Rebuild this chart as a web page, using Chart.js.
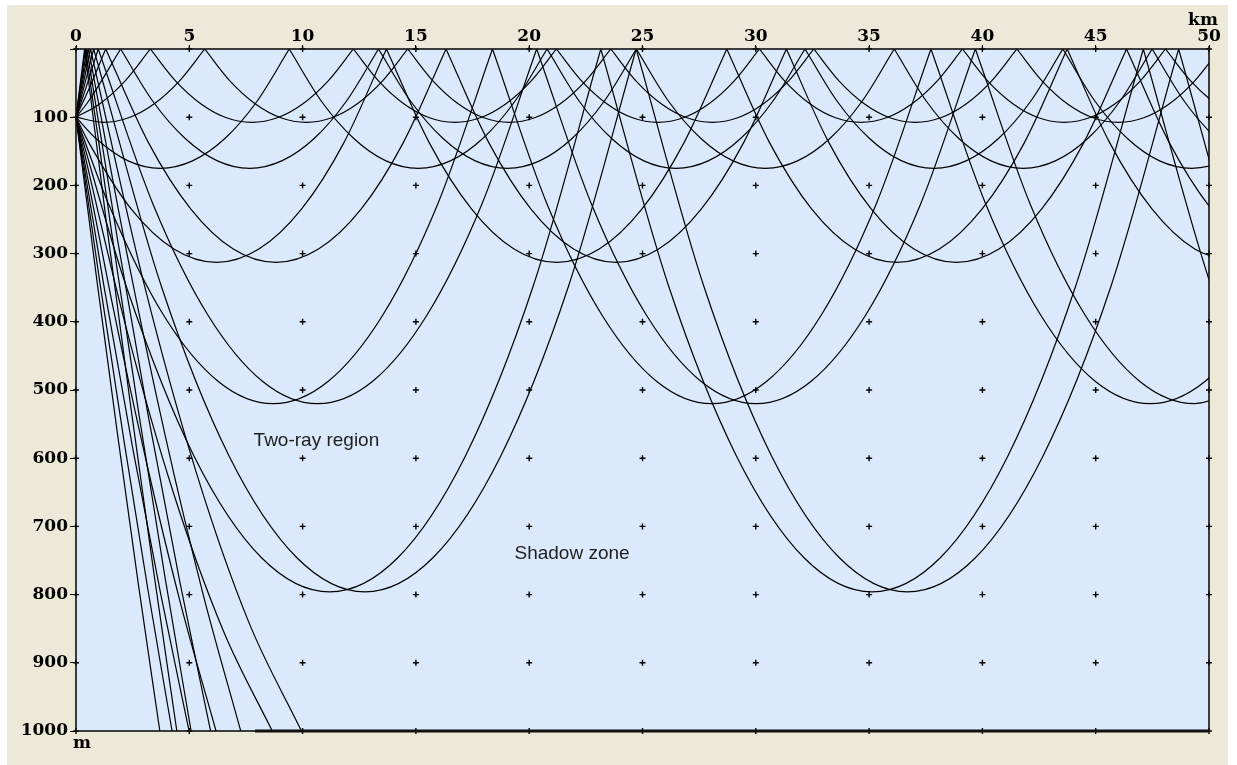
<!DOCTYPE html>
<html>
<head>
<meta charset="utf-8">
<script src="https://cdn.jsdelivr.net/npm/chart.js@4.4.1/dist/chart.umd.min.js"></script>
<style>
html,body{margin:0;padding:0;background:#fff;}
canvas{display:block;}
</style>
</head>
<body>
<canvas id="c" width="1237" height="765"></canvas>
<script>
// ---------- axis ticks ----------
const xTicks = [0, 5, 10, 15, 20, 25, 30, 35, 40, 45, 50];        // km
const yTicks = [0, 100, 200, 300, 400, 500, 600, 700, 800, 900, 1000]; // m

// ---------- rays: [range km, depth m], one sub-array per arc between surface reflections ----------
// turning depth ~107 m
const ray0Down = [
 [[0,100],[1.20,107.5],[2.32,100.8],[3.44,80.6],[4.56,47],[5.68,0]],
 [[5.68,0],[6.80,47],[7.92,80.6],[9.04,100.8],[10.16,107.5],[11.28,100.8],[12.40,80.6],[13.52,47],[14.64,0]],
 [[14.64,0],[15.76,47],[16.88,80.6],[18.00,100.8],[19.12,107.5],[20.24,100.8],[21.36,80.6],[22.48,47],[23.60,0]],
 [[23.60,0],[24.72,47],[25.84,80.6],[26.96,100.8],[28.08,107.5],[29.20,100.8],[30.32,80.6],[31.44,47],[32.56,0]],
 [[32.56,0],[33.68,47],[34.80,80.6],[35.92,100.8],[37.04,107.5],[38.16,100.8],[39.28,80.6],[40.40,47],[41.52,0]],
 [[41.52,0],[42.64,47],[43.76,80.6],[44.88,100.8],[46.00,107.5],[47.12,100.8],[48.24,80.6],[49.36,47],[50.48,0]]
];
const ray0Up = [
 [[0,100],[1.04,80.6],[2.16,47],[3.28,0]],
 [[3.28,0],[4.40,47],[5.52,80.6],[6.64,100.8],[7.76,107.5],[8.88,100.8],[10.00,80.6],[11.12,47],[12.24,0]],
 [[12.24,0],[13.36,47],[14.48,80.6],[15.60,100.8],[16.72,107.5],[17.84,100.8],[18.96,80.6],[20.08,47],[21.20,0]],
 [[21.20,0],[22.32,47],[23.44,80.6],[24.56,100.8],[25.68,107.5],[26.80,100.8],[27.92,80.6],[29.04,47],[30.16,0]],
 [[30.16,0],[31.28,47],[32.40,80.6],[33.52,100.8],[34.64,107.5],[35.76,100.8],[36.88,80.6],[38.00,47],[39.12,0]],
 [[39.12,0],[40.24,47],[41.36,80.6],[42.48,100.8],[43.60,107.5],[44.72,100.8],[45.84,80.6],[46.96,47],[48.08,0]],
 [[48.08,0],[49.20,47],[50.32,80.6],[51.44,100.8]]
];
// turning depth ~175 m
const ray1Down = [
 [[0,100],[0.88,131.3],[2.30,164.1],[3.72,175],[5.14,164.1],[6.57,131.3],[7.99,76.6],[9.41,0]],
 [[9.41,0],[10.83,76.6],[12.26,131.3],[13.68,164.1],[15.10,175],[16.52,164.1],[17.95,131.3],[19.37,76.6],[20.79,0]],
 [[20.79,0],[22.21,76.6],[23.64,131.3],[25.06,164.1],[26.48,175],[27.90,164.1],[29.33,131.3],[30.75,76.6],[32.17,0]],
 [[32.17,0],[33.59,76.6],[35.02,131.3],[36.44,164.1],[37.86,175],[39.28,164.1],[40.71,131.3],[42.13,76.6],[43.55,0]],
 [[43.55,0],[44.97,76.6],[46.40,131.3],[47.82,164.1],[49.24,175],[50.66,164.1],[52.09,131.3]]
];
const ray1Up = [
 [[0,100],[0.55,76.6],[1.97,0]],
 [[1.97,0],[3.39,76.6],[4.82,131.3],[6.24,164.1],[7.66,175],[9.08,164.1],[10.51,131.3],[11.93,76.6],[13.35,0]],
 [[13.35,0],[14.77,76.6],[16.20,131.3],[17.62,164.1],[19.04,175],[20.46,164.1],[21.89,131.3],[23.31,76.6],[24.73,0]],
 [[24.73,0],[26.15,76.6],[27.58,131.3],[29.00,164.1],[30.42,175],[31.84,164.1],[33.27,131.3],[34.69,76.6],[36.11,0]],
 [[36.11,0],[37.53,76.6],[38.96,131.3],[40.38,164.1],[41.80,175],[43.22,164.1],[44.65,131.3],[46.07,76.6],[47.49,0]],
 [[47.49,0],[48.91,76.6],[50.34,131.3],[51.76,164.1]]
];
// turning depth ~313 m
const ray2Down = [
 [[0,100],[0.56,136.9],[2.44,234.8],[4.32,293.4],[6.20,313],[8.07,293.4],[9.95,234.8],[11.83,136.9],[13.70,0]],
 [[13.70,0],[15.58,136.9],[17.46,234.8],[19.33,293.4],[21.21,313],[23.09,293.4],[24.97,234.8],[26.84,136.9],[28.72,0]],
 [[28.72,0],[30.60,136.9],[32.47,234.8],[34.35,293.4],[36.23,313],[38.10,293.4],[39.98,234.8],[41.86,136.9],[43.74,0]],
 [[43.74,0],[45.61,136.9],[47.49,234.8],[49.37,293.4],[51.24,313]]
];
const ray2Up = [
 [[0,100],[0.56,59.5],[1.31,0]],
 [[1.31,0],[3.19,136.9],[5.07,234.8],[6.94,293.4],[8.82,313],[10.70,293.4],[12.58,234.8],[14.45,136.9],[16.33,0]],
 [[16.33,0],[18.21,136.9],[20.08,234.8],[21.96,293.4],[23.84,313],[25.71,293.4],[27.59,234.8],[29.47,136.9],[31.35,0]],
 [[31.35,0],[33.22,136.9],[35.10,234.8],[36.98,293.4],[38.85,313],[40.73,293.4],[42.61,234.8],[44.48,136.9],[46.36,0]],
 [[46.36,0],[48.24,136.9],[50.11,234.8],[51.99,293.4]]
];
// turning depth ~520 m
const ray3Down = [
 [[0,100],[1.44,227.5],[3.86,390],[6.28,487.5],[8.70,520],[11.12,487.5],[13.54,390],[15.96,227.5],[18.38,0]],
 [[18.38,0],[20.79,227.5],[23.21,390],[25.63,487.5],[28.05,520],[30.47,487.5],[32.89,390],[35.31,227.5],[37.73,0]],
 [[37.73,0],[40.15,227.5],[42.57,390],[44.99,487.5],[47.41,520],[49.82,487.5],[52.24,390]]
];
const ray3Up = [
 [[0,100],[0.50,50.7],[0.98,0]],
 [[0.98,0],[3.40,227.5],[5.82,390],[8.24,487.5],[10.66,520],[13.08,487.5],[15.49,390],[17.91,227.5],[20.33,0]],
 [[20.33,0],[22.75,227.5],[25.17,390],[27.59,487.5],[30.01,520],[32.43,487.5],[34.85,390],[37.27,227.5],[39.69,0]],
 [[39.69,0],[42.11,227.5],[44.53,390],[46.95,487.5],[49.36,520],[51.78,487.5]]
];
// turning depth ~796 m
const ray4Down = [
 [[0,100],[2.22,348.3],[5.21,597],[8.20,746.3],[11.19,796],[14.19,746.3],[17.18,597],[20.17,348.3],[23.16,0]],
 [[23.16,0],[26.16,348.3],[29.15,597],[32.14,746.3],[35.13,796],[38.13,746.3],[41.12,597],[44.11,348.3],[47.10,0]],
 [[47.10,0],[50.10,348.3],[53.09,597]]
];
const ray4Up = [
 [[0,100],[0.42,47],[0.78,0]],
 [[0.78,0],[3.77,348.3],[6.76,597],[9.76,746.3],[12.75,796],[15.74,746.3],[18.74,597],[21.73,348.3],[24.72,0]],
 [[24.72,0],[27.71,348.3],[30.70,597],[33.70,746.3],[36.69,796],[39.68,746.3],[42.67,597],[45.67,348.3],[48.66,0]],
 [[48.66,0],[51.65,348.3],[54.64,597]]
];
// steep rays ending on the bottom
const ray5Down = [[[0,100],[2.17,403],[4.33,654],[6.50,853],[8.66,1000]]];
const ray5Up   = [[[0,100],[0.32,51],[0.64,0]], [[0.64,0],[2.97,340],[5.30,620],[7.62,840],[9.95,1000]]];
const ray6Down = [[[0,100],[1.55,365],[3.09,603],[4.63,815],[6.18,1000]]];
const ray6Up   = [[[0,100],[0.27,51],[0.55,0]], [[0.55,0],[2.23,297],[3.91,563],[5.59,797],[7.27,1000]]];
const ray7Down = [[[0,100],[1.25,351],[2.50,585],[3.75,801],[4.99,1000]]];
const ray7Up   = [[[0,100],[0.24,50],[0.48,0]], [[0.48,0],[1.84,281],[3.21,542],[4.58,781],[5.94,1000]]];
const ray8Down = [[[0,100],[1.06,344],[2.12,575],[3.18,794],[4.24,1000]]];
const ray8Up   = [[[0,100],[0.21,50],[0.42,0]], [[0.42,0],[1.59,273],[2.75,530],[3.92,773],[5.08,1000]]];
const ray9Down = [[[0,100],[0.92,339],[1.85,569],[2.77,789],[3.70,1000]]];
const ray9Up   = [[[0,100],[0.19,50],[0.38,0]], [[0.38,0],[1.39,267],[2.41,523],[3.43,767],[4.45,1000]]];

// heavy bottom line
const bottomLine = [[7.9,1000],[50,1000]];

// text labels placed in data coordinates
const notes = [
  {text: 'Two-ray region', x: 10.61, y: 582},
  {text: 'Shadow zone',    x: 21.89, y: 748}
];

const allRays = [ray0Down, ray0Up, ray1Down, ray1Up, ray2Down, ray2Up, ray3Down, ray3Up,
  ray4Down, ray4Up, ray5Down, ray5Up, ray6Down, ray6Up, ray7Down, ray7Up, ray8Down, ray8Up, ray9Down, ray9Up];

function toPoints(arcs) {
  const pts = [];
  arcs.forEach((arc, i) => {
    if (i > 0) pts.push({x: arc[0][0], y: null});
    arc.forEach(p => pts.push({x: p[0], y: p[1]}));
  });
  return pts;
}

const gridPts = [];
xTicks.forEach(x => yTicks.forEach(y => gridPts.push({x, y})));

const datasets = [];
datasets.push({
  data: gridPts, showLine: false, pointStyle: 'cross', pointRadius: 3,
  pointBorderColor: '#000', pointBorderWidth: 1.4, clip: false, order: 2
});
allRays.forEach(r => datasets.push({
  data: toPoints(r), borderColor: '#000', borderWidth: 1.2, pointRadius: 0,
  cubicInterpolationMode: 'monotone', spanGaps: false, fill: false, order: 1
}));
datasets.push({
  data: bottomLine.map(p => ({x: p[0], y: p[1]})), borderColor: '#111', borderWidth: 3,
  pointRadius: 0, clip: false, order: 0
});

const serif = {family: '"DejaVu Serif", serif', size: 17, weight: 'bold'};

const framePlugin = {
  id: 'frame',
  beforeDraw(chart) {
    const {ctx, chartArea: a} = chart;
    ctx.save();
    ctx.fillStyle = '#ffffff';
    ctx.fillRect(0, 0, chart.width, chart.height);
    ctx.fillStyle = '#ECE9D8';
    ctx.fillRect(7, 5, 1221, 760);
    ctx.fillStyle = '#DBE9FC';
    ctx.fillRect(a.left, a.top, a.right - a.left, a.bottom - a.top);
    ctx.restore();
  },
  afterDatasetsDraw(chart) {
    const {ctx, chartArea: a, scales} = chart;
    ctx.save();
    ctx.strokeStyle = '#111';
    ctx.lineWidth = 1.6;
    ctx.strokeRect(a.left, a.top, a.right - a.left, a.bottom - a.top);
    ctx.fillStyle = '#1e1e1e';
    ctx.font = '19px "Liberation Sans", Arial, sans-serif';
    ctx.textAlign = 'center';
    ctx.textBaseline = 'alphabetic';
    notes.forEach(n => ctx.fillText(n.text, scales.x.getPixelForValue(n.x), scales.y.getPixelForValue(n.y)));
    ctx.fillStyle = '#000';
    ctx.font = 'bold 17px "DejaVu Serif", serif';
    ctx.fillText('km', a.right - 6, 25);
    ctx.fillText('m', a.left + 6, 748);
    ctx.restore();
  }
};

new Chart(document.getElementById('c'), {
  type: 'line',
  data: {datasets},
  plugins: [framePlugin],
  options: {
    responsive: false,
    animation: false,
    events: [],
    layout: {padding: {left: 0, top: 0, right: 28, bottom: 34}},
    plugins: {legend: {display: false}, tooltip: {enabled: false}},
    scales: {
      x: {
        type: 'linear', position: 'top', min: 0, max: 50,
        afterBuildTicks: s => { s.ticks = xTicks.map(v => ({value: v})); },
        afterFit: s => { s.height = 49; },
        ticks: {font: serif, color: '#000', padding: -2, maxRotation: 0, autoSkip: false},
        grid: {drawOnChartArea: false, color: '#000', tickLength: 4, lineWidth: 1},
        border: {display: false}
      },
      y: {
        type: 'linear', position: 'left', reverse: true, min: 0, max: 1000,
        afterBuildTicks: s => { s.ticks = yTicks.map(v => ({value: v})); },
        afterFit: s => { s.width = 76; },
        ticks: {font: serif, color: '#000', padding: 2, autoSkip: false,
                callback: v => (v === 0 ? '' : String(v))},
        grid: {drawOnChartArea: false, color: '#000', tickLength: 6, lineWidth: 1},
        border: {display: false}
      }
    }
  }
});
</script>
</body>
</html>
